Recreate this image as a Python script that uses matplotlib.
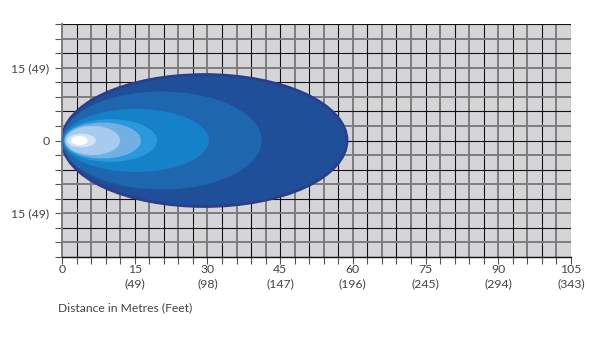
import matplotlib.pyplot as plt
from matplotlib.patches import Ellipse

# beam pattern layers: start / end distance (m), half width (m), colour
beam_start = [0.0, 0.0, 0.2, 0.3, 0.5, 0.7, 1.0, 1.9]
beam_end = [58.8, 41.2, 30.3, 19.6, 16.3, 12.0, 7.0, 5.3]
beam_half = [13.6, 10.1, 6.5, 4.4, 3.7, 3.0, 1.4, 0.95]
beam_colors = ['#1f4f98', '#1e66ad', '#1581c8', '#2a98da', '#70b0e3',
               '#a7cbee', '#d2e4f5', '#ffffff']

x_ticks = [0, 15, 30, 45, 60, 75, 90, 105]
x_labels = ['0', '15\n(49)', '30\n(98)', '45\n(147)', '60\n(196)',
            '75\n(245)', '90\n(294)', '105\n(343)']
y_ticks = [-15, 0, 15]
y_labels = ['15 (49)', '0', '15 (49)']

plt.rcParams['font.family'] = ['Lato', 'DejaVu Sans']

fig = plt.figure(figsize=(6, 3.39), dpi=100)
ax = fig.add_axes([0.1033, 0.242, 0.8484, 0.687])
ax.set_xlim(0, 105)
ax.set_ylim(-24, 24)
ax.set_facecolor('#d5d5d7')

# grid, alternating grey and black lines every 3 m
for i, gx in enumerate(range(0, 106, 3)):
    if i % 2 == 0:
        ax.axvline(gx, color='#7d7d7d', lw=1.4, zorder=1)
    else:
        ax.axvline(gx, color='#111111', lw=0.8, zorder=1)
for i, gy in enumerate(range(24, -25, -3)):
    if i % 2 == 0:
        ax.axhline(gy, color='#111111', lw=0.8, zorder=1)
    else:
        ax.axhline(gy, color='#7d7d7d', lw=1.4, zorder=1)

for k in range(len(beam_end)):
    cx = (beam_start[k] + beam_end[k]) / 2
    w = beam_end[k] - beam_start[k]
    h = beam_half[k] * 2
    if k == 0:
        e = Ellipse((cx, 0), w, h, facecolor=beam_colors[k], edgecolor='#2b3e8c',
                    lw=2, zorder=2)
    else:
        e = Ellipse((cx, 0), w, h, facecolor=beam_colors[k], edgecolor='none', zorder=2 + k)
    ax.add_patch(e)

for s in ['top', 'right']:
    ax.spines[s].set_visible(False)
ax.spines['left'].set_color('#7d7d7d')
ax.spines['left'].set_linewidth(1.4)
ax.spines['bottom'].set_color('#111111')
ax.spines['bottom'].set_linewidth(1.0)

ax.set_xticks(x_ticks)
ax.set_xticklabels(x_labels, fontsize=8.8, color='#444444', linespacing=1.4)
ax.set_yticks(y_ticks)
ax.set_yticklabels(y_labels, fontsize=8.8, color='#444444')
ax.set_xticks(range(0, 106, 3), minor=True)
ax.set_yticks(range(-24, 25, 3), minor=True)
ax.tick_params(axis='both', which='both', length=5, width=0.8, color='#555555')
ax.tick_params(axis='x', which='major', pad=0)
ax.tick_params(axis='y', which='major', pad=4)

fig.text(0.097, 0.091, 'Distance in Metres (Feet)', fontsize=8.7, color='#444444',
         va='center')

fig.savefig('out.png', dpi=100)
